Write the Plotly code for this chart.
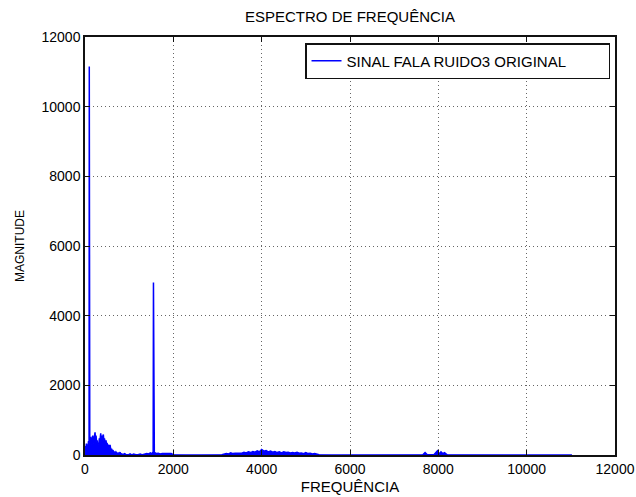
import plotly.graph_objects as go

# Magnitude spectrum of the noisy speech signal (frequency in Hz)
freq_low = [0, 10, 20, 32, 45, 58, 70, 80, 88, 92, 97, 102, 108, 118, 130, 140, 150, 162,
            175, 188, 200, 213, 227, 240, 250, 262, 275, 288, 300, 312, 325, 340, 356,
            368, 380, 395, 415, 428, 440, 458, 476, 490, 500, 515, 530, 548, 567, 585,
            600, 618, 635, 648, 660, 680, 700, 725, 750, 772, 794, 812, 830, 850, 870,
            900, 930]
mag_low = [0, 260, 180, 330, 220, 300, 280, 400, 320, 300, 11150, 300, 280, 420, 520, 300,
           380, 450, 560, 330, 480, 520, 650, 420, 560, 380, 420, 250, 340, 300, 480, 420,
           620, 360, 560, 480, 590, 400, 480, 350, 420, 260, 350, 220, 300, 180, 290, 150,
           180, 120, 140, 60, 100, 50, 90, 40, 60, 30, 80, 20, 30, 10, 20, 40, 5]

freq_mid = [980, 1020, 1060, 1100, 1150, 1200, 1250, 1300, 1350, 1400, 1440, 1480, 1510,
            1530, 1543, 1550, 1557, 1570, 1590, 1620, 1660, 1700, 1750, 1800, 1850, 1900,
            1950, 2000, 2100, 2300, 2600, 2900, 3100]
mag_mid = [5, 30, 5, 25, 5, 10, 30, 5, 20, 40, 30, 60, 40, 60, 90, 4950, 80, 40, 60, 40,
           50, 30, 45, 40, 50, 30, 40, 10, 5, 3, 2, 3, 5]

freq_high = [3200, 3250, 3300, 3350, 3400, 3450, 3500, 3550, 3600, 3650, 3700, 3750, 3800,
             3850, 3900, 3950, 4000, 4050, 4100, 4150, 4200, 4250, 4300, 4350, 4400, 4450,
             4500, 4550, 4600, 4650, 4700, 4750, 4800, 4850, 4900, 4950, 5000, 5050, 5100,
             5150, 5200, 5300, 5600, 6000, 6500, 7000, 7500, 7650, 7700, 7750, 7900, 7980,
             8020, 8060, 8100, 8140, 8200, 8500, 9000, 9500, 10000, 10500, 11025]
mag_high = [40, 30, 60, 40, 50, 50, 70, 50, 80, 60, 90, 70, 100, 80, 120, 90, 160, 110,
            130, 90, 110, 80, 100, 70, 90, 60, 90, 70, 80, 60, 70, 60, 80, 50, 60, 40, 70,
            40, 50, 30, 40, 5, 3, 2, 2, 3, 5, 5, 70, 5, 10, 120, 30, 90, 40, 70, 5, 3, 2,
            2, 2, 2, 0]

freq = freq_low + freq_mid + freq_high
mag = mag_low + mag_mid + mag_high

x_ticks = [0, 2000, 4000, 6000, 8000, 10000, 12000]
y_ticks = [0, 2000, 4000, 6000, 8000, 10000, 12000]

FONT = "Liberation Sans, Arial, sans-serif"
BLUE = "#0000FF"

fig = go.Figure()
# dense spectrum drawn as the area under its envelope
fig.add_trace(go.Scatter(
    x=freq, y=mag, mode="lines", fill="tozeroy", fillcolor=BLUE,
    line=dict(color=BLUE, width=0), showlegend=False, hoverinfo="skip",
))
fig.add_trace(go.Scatter(
    x=freq, y=mag, mode="lines",
    line=dict(color=BLUE, width=1.5),
    name="SINAL FALA RUIDO3 ORIGINAL",
))

axis_common = dict(
    showline=True, linecolor="#111111", linewidth=1.5, mirror="allticks",
    ticks="inside", ticklen=5, tickcolor="#111111", automargin=False,
    showgrid=True, gridcolor="#666666", gridwidth=1, griddash="1px,3px",
    zeroline=False, tickfont=dict(family=FONT, size=14, color="black"),
)

fig.update_xaxes(
    range=[0, 12000], tickvals=x_ticks, ticktext=[str(v) for v in x_ticks],
    title=dict(text="FREQUÊNCIA", font=dict(family=FONT, size=15, color="black"), standoff=6),
    **axis_common,
)
fig.update_yaxes(
    range=[0, 12000], tickvals=y_ticks, ticktext=[str(v) for v in y_ticks],
    title=dict(text="MAGNITUDE", font=dict(family=FONT, size=12, color="black"), standoff=14),
    **axis_common,
)

fig.update_layout(
    width=636, height=497,
    margin=dict(l=85, r=21, t=37, b=42, autoexpand=False),
    paper_bgcolor="white", plot_bgcolor="white",
    title=dict(text="ESPECTRO DE FREQUÊNCIA", x=(85 + 615) / 2 / 636, xanchor="center",
               y=1 - 17 / 497, yanchor="middle", automargin=False,
               font=dict(family=FONT, size=15, color="black")),
    showlegend=True,
    legend=dict(orientation="h", x=0.9906, y=0.9856, xanchor="right", yanchor="top",
                entrywidth=257, entrywidthmode="pixels",
                bgcolor="white", bordercolor="#111111", borderwidth=1.5,
                font=dict(family=FONT, size=15, color="black")),
)

fig.write_html("out.html")
